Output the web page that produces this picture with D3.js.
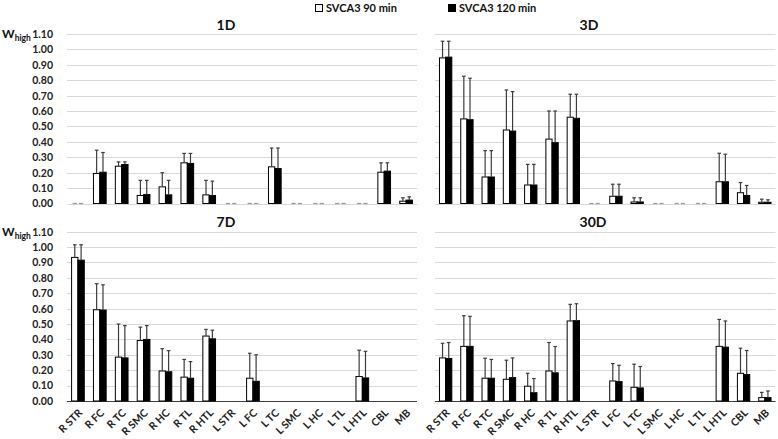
<!DOCTYPE html>
<html><head><meta charset="utf-8">
<script src="https://cdn.jsdelivr.net/npm/d3@7"></script>
<style>body{margin:0;background:#fff}svg{display:block}text{font-family:Lato,"Open Sans",sans-serif;font-weight:bold}</style>
</head><body><svg id="c" width="778" height="439"></svg>
<script>
const categories = ["R STR","R FC","R TC","R SMC","R HC","R TL","R HTL","L STR","L FC","L TC","L SMC","L HC","L TL","L HTL","CBL","MB"];
const seriesNames = ["SVCA3 90 min","SVCA3 120 min"];
const tickValues = [0,0.1,0.2,0.3,0.4,0.5,0.6,0.7,0.8,0.9,1.0,1.1];

const d1_90   = [0,0.195,0.242,0.052,0.108,0.264,0.056,0,0,0.238,0,0,0,0,0.203,0.015];
const d1_90e  = [0,0.151,0.028,0.098,0.092,0.061,0.094,0,0,0.122,0,0,0,0,0.061,0.022];
const d1_120  = [0,0.203,0.253,0.058,0.056,0.260,0.052,0,0,0.227,0,0,0,0,0.210,0.022];
const d1_120e = [0,0.128,0.017,0.092,0.094,0.065,0.093,0,0,0.133,0,0,0,0,0.054,0.021];

const d3_90   = [0.945,0.549,0.172,0.477,0.120,0.418,0.560,0,0.047,0.010,0,0,0,0.141,0.070,0.008];
const d3_90e  = [0.108,0.277,0.171,0.260,0.134,0.182,0.149,0,0.078,0.027,0,0,0,0.185,0.066,0.020];
const d3_120  = [0.950,0.544,0.172,0.470,0.120,0.395,0.553,0,0.047,0.010,0,0,0,0.141,0.052,0.008];
const d3_120e = [0.103,0.269,0.171,0.256,0.134,0.205,0.156,0,0.078,0.027,0,0,0,0.179,0.065,0.016];

const d7_90   = [0.933,0.593,0.285,0.393,0.195,0.155,0.422,0,0.148,0,0,0,0,0.159,0,0];
const d7_90e  = [0.082,0.169,0.215,0.087,0.145,0.115,0.043,0,0.162,0,0,0,0,0.171,0,0];
const d7_120  = [0.915,0.591,0.280,0.400,0.190,0.148,0.404,0,0.128,0,0,0,0,0.150,0,0];
const d7_120e = [0.100,0.164,0.210,0.090,0.137,0.108,0.056,0,0.172,0,0,0,0,0.173,0,0];

const d30_90   = [0.280,0.355,0.148,0.141,0.096,0.195,0.520,0,0.130,0.089,0,0,0,0.355,0.180,0.022];
const d30_90e  = [0.095,0.199,0.130,0.124,0.084,0.185,0.108,0,0.113,0.150,0,0,0,0.175,0.163,0.034];
const d30_120  = [0.276,0.355,0.148,0.152,0.054,0.183,0.522,0,0.126,0.085,0,0,0,0.350,0.172,0.022];
const d30_120e = [0.104,0.195,0.122,0.128,0.092,0.171,0.110,0,0.106,0.139,0,0,0,0.170,0.156,0.043];

const panels = [
  {title:"1D", v:[d1_90,d1_120], e:[d1_90e,d1_120e], x:[67,417], y:[203.5,34], left:true, bottom:false, tx:226, ty:30},
  {title:"3D", v:[d3_90,d3_120], e:[d3_90e,d3_120e], x:[435,775.5], y:[203.5,34], left:false, bottom:false, tx:589, ty:30},
  {title:"7D", v:[d7_90,d7_120], e:[d7_90e,d7_120e], x:[67,417], y:[401,231.7], left:true, bottom:true, tx:226, ty:227},
  {title:"30D", v:[d30_90,d30_120], e:[d30_90e,d30_120e], x:[435,775.5], y:[401,231.7], left:false, bottom:true, tx:593, ty:227}
];
const fills = ["#ffffff","#000000"];
const svg = d3.select("#c");

panels.forEach(p => {
  const x = d3.scaleBand().domain(categories).range(p.x).paddingInner(0.42).paddingOuter(0.21);
  const xs = d3.scaleBand().domain([0,1]).range([0, x.bandwidth()]);
  const y = d3.scaleLinear().domain([0,1.1]).range(p.y);
  const g = svg.append("g");
  g.selectAll(".grid").data(tickValues).join("line")
    .attr("x1", p.x[0]).attr("x2", p.x[1])
    .attr("y1", d => Math.round(y(d))+0.5).attr("y2", d => Math.round(y(d))+0.5)
    .attr("stroke", "#d9d9d9").attr("stroke-width", 1);
  if (p.bottom) {
    g.append("line").attr("x1", p.x[0]).attr("x2", p.x[1])
      .attr("y1", Math.round(y(0))+0.5).attr("y2", Math.round(y(0))+0.5)
      .attr("stroke", "#404040").attr("stroke-width", 1);
  }
  if (p.left) {
    const ax = g.append("g").attr("transform", `translate(${p.x[0]-11},0)`)
      .call(d3.axisLeft(y).tickValues(tickValues).tickFormat(d3.format(".2f")).tickSize(0));
    ax.select(".domain").remove();
    ax.selectAll("text").attr("font-size", 10.5).attr("fill", "#222")
      .style("font-family", "Lato,'Open Sans',sans-serif").style("font-weight", "bold");
    const wy = y(1.1) + 4;
    const t = g.append("text").attr("x", 2).attr("y", wy).attr("font-size", 12).attr("fill", "#111");
    t.append("tspan").text("W");
    t.append("tspan").attr("dy", 3).attr("font-size", 8.5).text("high");
  }
  [0,1].forEach(s => {
    const bars = g.append("g");
    categories.forEach((c, i) => {
      const val = p.v[s][i];
      const bx = x(c) + xs(s);
      const bw = xs.bandwidth();
      if (val === 0) {
        if (!p.bottom) {
          bars.append("line").attr("x1", bx+1).attr("x2", bx+bw-1)
            .attr("y1", y(0)).attr("y2", y(0)).attr("stroke", "#9a9a9a").attr("stroke-width", 1.2);
        }
        return;
      }
      bars.append("rect").attr("x", bx).attr("y", y(val)).attr("width", bw)
        .attr("height", y(0) - y(val)).attr("fill", fills[s])
        .attr("stroke", "#000").attr("stroke-width", 1);
      const err = p.e[s][i];
      if (err > 0) {
        const cx = bx + bw/2;
        bars.append("line").attr("x1", cx).attr("x2", cx).attr("y1", y(val)).attr("y2", y(val+err))
          .attr("stroke", "#3c3c3c").attr("stroke-width", 1.2);
        bars.append("line").attr("x1", cx-1.8).attr("x2", cx+1.8).attr("y1", y(val+err)).attr("y2", y(val+err))
          .attr("stroke", "#3c3c3c").attr("stroke-width", 1.2);
      }
    });
  });
  g.append("text").attr("x", p.tx).attr("y", p.ty).attr("text-anchor", "middle")
    .attr("font-size", 14).attr("fill", "#111").text(p.title);
  if (p.bottom) {
    g.selectAll(".xl").data(categories).join("text")
      .attr("transform", d => `translate(${x(d)+x.bandwidth()/2+5},${y(0)+12.5}) rotate(-45)`)
      .attr("text-anchor", "end").attr("font-size", 10.5).attr("fill", "#222").text(d => d);
  }
});

const leg = svg.append("g");
[[315,0],[448,1]].forEach(([lx,s]) => {
  leg.append("rect").attr("x", lx+0.5).attr("y", 4.5).attr("width", 7).attr("height", 7)
    .attr("fill", fills[s]).attr("stroke", "#000").attr("stroke-width", 1);
  leg.append("text").attr("x", lx+11).attr("y", 12).attr("font-size", 11).attr("fill", "#111").text(seriesNames[s]);
});
</script></body></html>
